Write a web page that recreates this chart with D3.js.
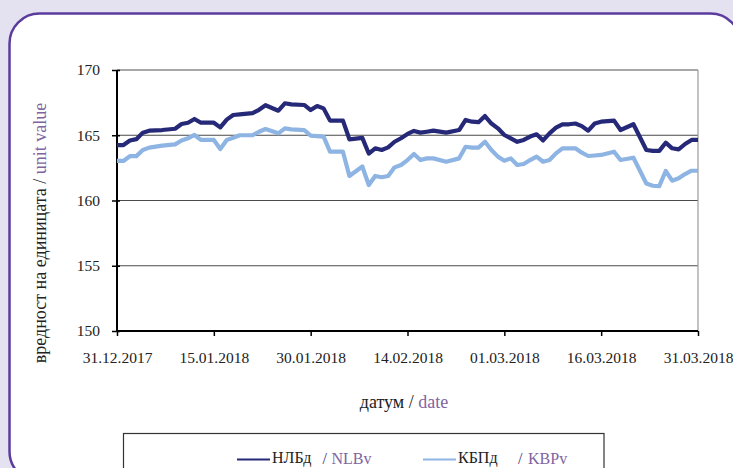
<!DOCTYPE html>
<html><head><meta charset="utf-8">
<script src="https://cdn.jsdelivr.net/npm/d3@7"></script>
<style>
html,body{margin:0;padding:0;background:#e4e2f0;}
svg{display:block;}
text{font-family:"Liberation Serif","Times New Roman",serif;}
</style></head>
<body>
<svg id="chart" width="733" height="468"></svg>
<script>
const dates = ["2017-12-31","2018-01-01","2018-01-02","2018-01-03","2018-01-04","2018-01-05","2018-01-07","2018-01-09","2018-01-10","2018-01-11",
"2018-01-12","2018-01-13","2018-01-15","2018-01-16","2018-01-17","2018-01-18","2018-01-19","2018-01-21","2018-01-22","2018-01-23",
"2018-01-25","2018-01-26","2018-01-27","2018-01-29","2018-01-30","2018-01-31","2018-02-01","2018-02-02","2018-02-04","2018-02-05",
"2018-02-07","2018-02-08","2018-02-09","2018-02-10","2018-02-11","2018-02-12","2018-02-13","2018-02-14","2018-02-15","2018-02-16",
"2018-02-17","2018-02-18","2018-02-20","2018-02-22","2018-02-23","2018-02-24","2018-02-25","2018-02-26","2018-02-27","2018-02-28",
"2018-03-01","2018-03-02","2018-03-03","2018-03-04","2018-03-05","2018-03-06","2018-03-07","2018-03-08","2018-03-09","2018-03-10",
"2018-03-11","2018-03-12","2018-03-13","2018-03-14","2018-03-15","2018-03-16","2018-03-18","2018-03-19","2018-03-21","2018-03-23",
"2018-03-24","2018-03-25","2018-03-26","2018-03-27","2018-03-28","2018-03-29","2018-03-30","2018-03-31"];

const nlb = [164.25,164.25,164.6,164.7,165.2,165.35,165.4,165.5,165.86,165.96,
166.25,165.96,165.96,165.6,166.2,166.55,166.6,166.7,166.95,167.3,
166.88,167.45,167.37,167.32,166.93,167.24,167.06,166.12,166.12,164.69,
164.8,163.6,164.0,163.87,164.07,164.5,164.77,165.1,165.33,165.2,
165.27,165.35,165.2,165.4,166.17,166.04,166.0,166.47,165.9,165.53,
165.02,164.76,164.5,164.64,164.9,165.07,164.6,165.15,165.58,165.84,
165.84,165.9,165.7,165.35,165.9,166.04,166.12,165.4,165.84,163.87,
163.8,163.8,164.43,164.0,163.92,164.33,164.64,164.64];

const kbp = [163.03,163.03,163.4,163.4,163.87,164.05,164.2,164.3,164.6,164.77,
165.02,164.64,164.64,163.95,164.64,164.8,165.0,165.0,165.27,165.48,
165.15,165.53,165.45,165.4,164.97,164.93,164.9,163.74,163.74,161.88,
162.6,161.19,161.88,161.78,161.88,162.54,162.72,163.1,163.56,163.1,
163.23,163.23,162.97,163.23,164.12,164.05,164.05,164.5,163.87,163.36,
163.05,163.23,162.72,162.8,163.1,163.36,162.97,163.1,163.61,164.0,
164.0,164.0,163.66,163.41,163.45,163.49,163.74,163.1,163.28,161.3,
161.13,161.1,162.26,161.52,161.7,162.03,162.28,162.28];

const xTickLabels = ["31.12.2017","15.01.2018","30.01.2018","14.02.2018","01.03.2018","16.03.2018","31.03.2018"];
const yTicks = [150,155,160,165,170];
const seriesNames = [["НЛБд","NLBv"],["КБПд","KBPv"]];
const yTitle = ["вредност на единицата / ","unit value"];
const xTitle = ["датум / ","date"];

const parse = d3.timeParse("%Y-%m-%d");
const parseTick = d3.timeParse("%d.%m.%Y");
const fmt = d3.timeFormat("%d.%m.%Y");

const svg = d3.select("#chart");
const purple = "#8064a2";
const dark = "#262878", light = "#8db4e2";

// frame
svg.append("rect").attr("x",9.5).attr("y",13.5).attr("width",731).attr("height",468)
  .attr("rx",30).attr("ry",30).attr("fill","#fff").attr("stroke","#5b3c9e").attr("stroke-width",2.5);

const L=117, R=698, T=70, B=331;
const x = d3.scaleTime().domain([parseTick(xTickLabels[0]), parseTick(xTickLabels[xTickLabels.length-1])]).range([L,R]);
const y = d3.scaleLinear().domain([150,170]).range([B,T]);

// gridlines
svg.append("g").selectAll("line").data(yTicks.filter(v=>v>150)).join("line")
  .attr("x1",L).attr("x2",R).attr("y1",d=>y(d)).attr("y2",d=>y(d))
  .attr("stroke",d=>d===170?"#8a8a8a":"#4a4a4a").attr("stroke-width",d=>d===170?1.5:1);
svg.append("line").attr("x1",R).attr("x2",R).attr("y1",T).attr("y2",B).attr("stroke","#9a9a9a").attr("stroke-width",1.2);

// y axis
const yAxis = d3.axisLeft(y).tickValues(yTicks).tickSize(5).tickPadding(12).tickFormat(d3.format("d"));
const gy = svg.append("g").attr("transform",`translate(${L},0)`).call(yAxis);
gy.select(".domain").attr("stroke","#000").attr("stroke-width",2).attr("d",`M0,${B}V${T}`);
gy.selectAll(".tick line").attr("stroke","#000").attr("stroke-width",1.5).attr("x2",-5).attr("x1",3);
gy.selectAll(".tick text").attr("font-family","Liberation Serif").attr("font-size",15.5).attr("fill","#222");

// x axis
const xAxis = d3.axisBottom(x).tickValues(xTickLabels.map(parseTick)).tickSize(5).tickPadding(16).tickFormat(fmt);
const gx = svg.append("g").attr("transform",`translate(0,${B})`).call(xAxis);
gx.select(".domain").attr("stroke","#000").attr("stroke-width",2).attr("d",`M${L},0H${R}`);
gx.selectAll(".tick line").attr("stroke","#000").attr("stroke-width",1.5);
gx.selectAll(".tick text").attr("font-family","Liberation Serif").attr("font-size",15.5).attr("fill","#222");

// lines
const data = dates.map((d,i)=>({date:parse(d), a:nlb[i], b:kbp[i]}));
const lineA = d3.line().x(d=>x(d.date)).y(d=>y(d.a));
const lineB = d3.line().x(d=>x(d.date)).y(d=>y(d.b));
svg.append("path").datum(data).attr("d",lineB).attr("fill","none").attr("stroke",light).attr("stroke-width",4.2).attr("stroke-linejoin","round");
svg.append("path").datum(data).attr("d",lineA).attr("fill","none").attr("stroke",dark).attr("stroke-width",4.2).attr("stroke-linejoin","round");

// y title
const yt = svg.append("text").attr("transform","translate(46,233) rotate(-90)").attr("text-anchor","middle")
  .attr("font-size",18).attr("fill","#222");
yt.append("tspan").text(yTitle[0]);
yt.append("tspan").attr("fill",purple).text(yTitle[1]);

// x title
const xt = svg.append("text").attr("x",404).attr("y",408).attr("text-anchor","middle").attr("font-size",18).attr("fill","#222");
xt.append("tspan").text(xTitle[0]);
xt.append("tspan").attr("fill",purple).text(xTitle[1]);

// legend
svg.append("rect").attr("x",123.5).attr("y",433.5).attr("width",480.5).attr("height",60).attr("fill","#fff").attr("stroke","#333").attr("stroke-width",1.2);
const legX = [[237,272,322.5,331.5],[423,458,518,528]];
const legColors = [dark, light];
seriesNames.forEach((n,i)=>{
  const p = legX[i];
  svg.append("line").attr("x1",p[0]).attr("x2",p[1]-2).attr("y1",459.5).attr("y2",459.5).attr("stroke",legColors[i]).attr("stroke-width",2);
  svg.append("text").attr("x",p[1]).attr("y",463).attr("font-size",16).attr("fill","#222").text(n[0]);
  svg.append("text").attr("x",p[2]).attr("y",464).attr("font-size",16).attr("fill","#3b3480").text("/");
  svg.append("text").attr("x",p[3]).attr("y",464).attr("font-size",16).attr("fill",purple).text(n[1]);
});
</script>
</body></html>
